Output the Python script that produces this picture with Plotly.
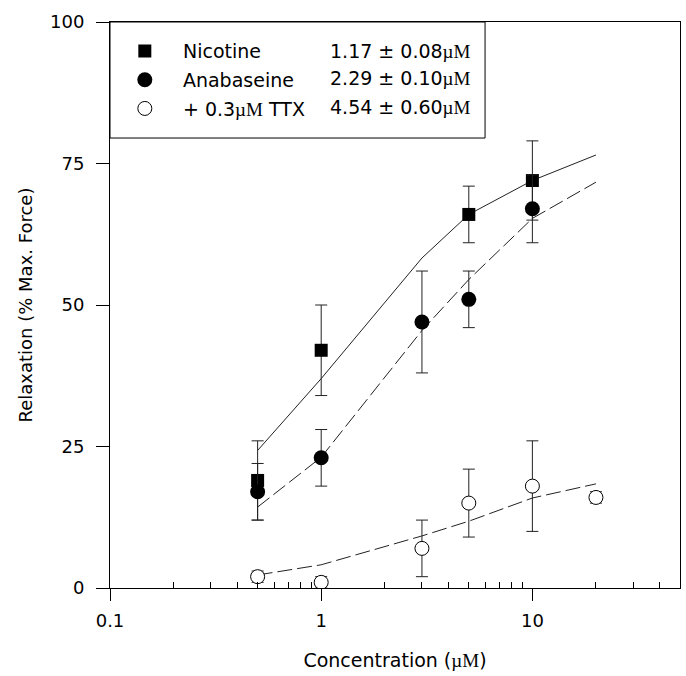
import plotly.graph_objects as go

# ---- data ----
fit_x = [0.5, 1, 3, 5, 10, 20]
nic_fit = [24.3, 37, 58.3, 66, 72, 76.5]
ana_fit = [14.3, 23.1, 45.5, 54.5, 65.3, 71.7]
ttx_fit = [2.3, 4.1, 9.2, 11.8, 15.9, 18.4]

nic_x = [0.5, 1, 5, 10]
nic_y = [19, 42, 66, 72]
nic_err = [7, 8, 5, 7]

ana_x = [0.5, 1, 3, 5, 10]
ana_y = [17, 23, 47, 51, 67]
ana_err = [5, 5, 9, 5, 6]

ttx_x = [0.5, 1, 3, 5, 10, 20]
ttx_y = [2, 1, 7, 15, 18, 16]
ttx_err = [1, 1, 5, 6, 8, 1]

MU = "<span style='font-family:Liberation Serif'>µM</span>"
names = ["Nicotine", "Anabaseine", "+ 0.3" + MU + " TTX"]
ec50 = ["1.17 ± 0.08", "2.29 ± 0.10", "4.54 ± 0.60"]

y_ticks = [0, 25, 50, 75, 100]
x_ticks = [0.1, 1, 10]
x_ticktext = ["0.1", "1", "10"]
x_minor = [0.2, 0.3, 0.4, 0.5, 0.6, 0.7, 0.8, 0.9, 2, 3, 4, 5, 6, 7, 8, 9, 20, 30, 40]

FONT = "DejaVu Sans, Liberation Sans, Arial, sans-serif"
pad = "\u00a0\u00a0\u00a0"

fig = go.Figure()

line_col = "#222"
fig.add_trace(go.Scatter(x=fit_x, y=nic_fit, mode="lines", showlegend=False,
                         line=dict(color=line_col, width=1)))
fig.add_trace(go.Scatter(x=fit_x, y=ana_fit, mode="lines", showlegend=False,
                         line=dict(color=line_col, width=1, dash="15px,5px")))
fig.add_trace(go.Scatter(x=fit_x, y=ttx_fit, mode="lines", showlegend=False,
                         line=dict(color=line_col, width=1, dash="15px,5px")))

eb = dict(type="data", thickness=1, width=6, color="#222")
fig.add_trace(go.Scatter(x=nic_x, y=nic_y, mode="markers", name=pad + names[0], legendgroup="a",
                         marker=dict(symbol="square", size=13, color="black"),
                         error_y=dict(array=nic_err, **eb)))
fig.add_trace(go.Scatter(x=ana_x, y=ana_y, mode="markers", name=pad + names[1], legendgroup="b",
                         marker=dict(symbol="circle", size=15, color="black"),
                         error_y=dict(array=ana_err, **eb)))
fig.add_trace(go.Scatter(x=ttx_x, y=ttx_y, mode="markers", name=pad + names[2], legendgroup="c",
                         marker=dict(symbol="circle", size=14, color="white",
                                     line=dict(color="black", width=1)),
                         error_y=dict(array=ttx_err, **eb)))

# legend box
fig.add_shape(type="rect", xref="paper", yref="paper", x0=0, x1=0.658, y0=0.795, y1=1,
              line=dict(color="black", width=1), fillcolor="rgba(0,0,0,0)")
rows_y = [0.949, 0.901, 0.850]
for t, yy in zip(ec50, rows_y):
    fig.add_annotation(xref="paper", yref="paper", x=0.6368, y=yy, xanchor="right",
                       yanchor="middle", text=t + MU, showarrow=False,
                       font=dict(family=FONT, size=19, color="black"))

fig.update_layout(
    width=686, height=676,
    margin=dict(l=110, r=6, t=22, b=88),
    paper_bgcolor="white", plot_bgcolor="white",
    font=dict(family=FONT, size=18, color="black"),
    legend=dict(x=0.026, y=0.982, xanchor="left", yanchor="top", traceorder="grouped",
                tracegroupgap=1, bgcolor="rgba(0,0,0,0)", borderwidth=0,
                font=dict(family=FONT, size=19, color="black")),
    xaxis=dict(type="log", range=[-1, 1.699], tickvals=x_ticks, ticktext=x_ticktext,
               ticks="outside", ticklen=12, tickwidth=1, tickcolor="black",
               showline=True, linecolor="black", linewidth=1, mirror=True,
               showgrid=False, zeroline=False, ticklabelstandoff=4,
               minor=dict(ticks="inside", ticklen=6, tickwidth=1, tickcolor="black",
                          tickvals=x_minor, showgrid=False),
               title=dict(text="Concentration (" + MU + ")", standoff=24,
                          font=dict(family=FONT, size=19))),
    yaxis=dict(range=[0, 100], tickvals=y_ticks, ticks="outside", ticklen=13, tickwidth=1,
               tickcolor="black", showline=True, linecolor="black", linewidth=1, mirror=True,
               showgrid=False, zeroline=False, ticklabelstandoff=8,
               title=dict(text="Relaxation (% Max. Force)", standoff=12,
                          font=dict(family=FONT, size=18))),
)

fig.write_html("out.html")
